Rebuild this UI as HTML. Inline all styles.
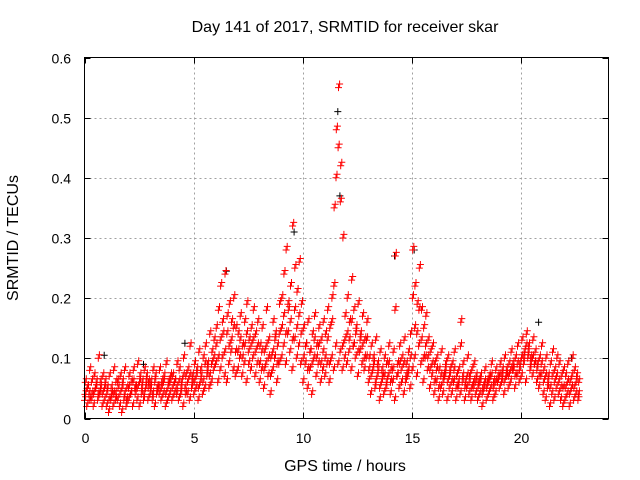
<!DOCTYPE html>
<html><head><meta charset="utf-8"><style>
html,body{margin:0;padding:0;background:#fff;}
svg{display:block;font-family:"Liberation Sans",sans-serif;}
</style></head><body>
<svg id="chart" width="640" height="480" viewBox="0 0 640 480">
<rect width="640" height="480" fill="#fff"/>
<text x="345" y="32" text-anchor="middle" font-size="16">Day 141 of 2017, SRMTID for receiver skar</text>
<text x="345" y="471" text-anchor="middle" font-size="16">GPS time / hours</text>
<text x="0" y="0" transform="translate(18,238) rotate(-90)" text-anchor="middle" font-size="16">SRMTID / TECUs</text>
<g id="grid"></g>
<g id="pts"></g>
<rect x="84.5" y="57.5" width="524" height="361" fill="none" stroke="#000" stroke-width="1"/>
<g id="ticks"></g>
</svg>
<script>
const xTicks=[0,5,10,15,20];
const yTicks=[0,0.1,0.2,0.3,0.4,0.5,0.6];
const yTickLabels=["0","0.1","0.2","0.3","0.4","0.5","0.6"];
const binHours=0.1;
const lowBand=[3,2,4,3,2,5,3,4,2,3, 2,1,3,2,4,3,2,1,3,2, 3,4,2,5,3,2,4,3,5,3, 4,3,2,4,5,3,4,2,3,4, 3,4,5,3,4,2,5,4,3,5, 4,5,3,6,4,5,7,5,6,8, 9,6,8,10,7,6,9,11,8,7, 8,10,7,9,6,11,8,10,7,9, 6,8,5,9,7,4,8,10,6,9, 10,12,9,14,11,8,13,10,12,9, 6,9,5,8,4,10,7,9,6,8, 7,9,6,10,8,12,9,11,8,10, 9,11,8,12,10,7,11,9,8,10, 6,4,8,5,7,3,6,4,5,7, 4,6,3,7,5,8,4,6,7,5, 8,10,7,12,9,6,10,8,5,7, 4,6,3,5,4,7,3,5,4,6, 3,5,4,6,3,5,4,3,5,4, 3,4,2,5,3,4,5,3,4,6, 5,6,4,7,5,6,8,5,7,6, 7,9,6,10,8,7,9,6,5,7, 4,3,5,2,4,3,5,4,3,2, 3,4,2,5,3,4,3];
const highBand=[6,5,8,4,7,6,10,5,7,6, 5,7,4,8,6,5,7,6,8,5, 7,6,8,5,9,7,6,8,7,6, 6,8,7,5,8,6,7,9,6,7, 7,6,9,8,6,10,7,8,12,7, 9,8,11,7,10,12,9,14,11,13, 15,18,22,14,24,17,19,16,20,15, 14,17,12,16,19,13,15,18,14,16, 12,15,11,18,13,10,16,14,12,19, 20,24,28,18,22,32,25,21,26,19, 15,12,16,11,14,17,12,15,13,16, 14,18,15,20,35,48,55,42,30,17, 20,16,23,18,15,19,14,17,13,16, 10,12,9,13,8,11,7,10,9,12, 8,11,27,9,12,10,13,9,11,14, 28,22,19,25,18,15,17,13,11,12, 9,10,8,11,7,9,10,8,9,11, 7,8,16,9,6,10,7,8,9,7, 6,7,5,8,6,7,9,6,8,7, 9,8,10,7,9,11,8,10,12,9, 13,11,14,12,10,13,11,9,10,12, 8,10,7,9,11,8,10,9,7,8, 7,9,6,10,8,7,6];
const midBand=[4,5,3,6,4,5,4,6,4,5, 4,3,5,4,3,6,4,5,4,3, 5,4,6,4,5,6,5,4,6,5, 5,4,6,5,4,5,6,4,5,6, 5,6,4,6,5,7,4,6,7,6, 6,7,5,8,6,9,8,7,9,10, 12,10,13,16,11,14,12,13,15,11, 11,13,10,12,14,9,12,13,11,12, 9,11,8,12,10,7,11,13,9,14, 15,17,14,19,16,13,18,15,17,14, 10,12,8,11,9,13,10,12,9,11, 10,13,9,16,22,40,45,36,12,13, 14,13,16,12,14,11,13,12,10,13, 8,7,10,6,9,5,8,7,6,9, 6,8,18,7,9,6,9,7,8,10, 20,15,14,18,13,10,12,10,8,9, 6,8,5,7,6,8,6,7,6,8, 5,6,12,7,5,7,6,5,6,6, 5,6,4,6,5,6,7,5,6,6, 7,7,6,8,7,8,9,7,9,8, 10,10,12,11,9,10,9,8,7,9, 6,7,6,5,7,6,7,6,5,5, 5,6,4,7,5,6,4];
const blackTimes=[0.9,2.7,4.6,6.5,9.6,11.6,11.7,14.2,15.1,20.8,22.3];
const blackVals=[0.105,0.09,0.125,0.245,0.31,0.51,0.37,0.27,0.28,0.16,0.1];
const X0=84.5,X1=608.5,Y0=418.5,Y1=57.5,XMAX=24,YMAX=0.6;
function xs(h){return X0+(X1-X0)*h/XMAX;}
function ys(v){return Y0-(Y0-Y1)*v/YMAX;}
const NS="http://www.w3.org/2000/svg";
const grid=document.getElementById('grid'),ticks=document.getElementById('ticks'),pts=document.getElementById('pts');
function mk(tag,attrs,parent){const e=document.createElementNS(NS,tag);for(const k in attrs)e.setAttribute(k,attrs[k]);parent.appendChild(e);return e;}
xTicks.forEach(t=>{
 const x=Math.round(xs(t))+0.5;
 if(t>0){const g=mk('line',{x1:x,x2:x,y1:Y1,y2:Y0,stroke:'#a0a0a0','stroke-dasharray':'2,3'},grid);
 
 }
 const tk=mk('path',{d:`M${x},${Y0}v-6M${x},${Y1}v6`,stroke:'#000'},ticks);
 
 
 const l=mk('text',{x:x,y:443,'text-anchor':'middle','font-size':'14'},ticks);l.textContent=t;
 
 
});
yTicks.forEach((t,i)=>{
 const y=Math.round(ys(t))+0.5;
 if(t>0&&t<YMAX){const g=mk('line',{x1:X0,x2:X1,y1:y,y2:y,stroke:'#a0a0a0','stroke-dasharray':'2,3'},grid);
 
 }
 const tk=mk('path',{d:`M${X0},${y}h6M${X1},${y}h-6`,stroke:'#000'},ticks);
 
 
 const l=mk('text',{x:71,y:y+5,'text-anchor':'end','font-size':'14'},ticks);l.textContent=yTickLabels[i];
 
 
});
function plus(h,v,color,name){
 const x=xs(h),y=ys(v);
 const p=mk('path',{d:`M${(x-3.5).toFixed(1)},${y.toFixed(1)}h7M${x.toFixed(1)},${(y-3.5).toFixed(1)}v7`,stroke:color,'stroke-width':'1'},pts);
 
 
}
blackTimes.forEach((t,i)=>plus(t,blackVals[i],'#000','black-point'));
const bands=[[lowBand,[0,0.05]],[midBand,[0.017,0.067]],[highBand,[0.033,0.083]]];
bands.forEach(([arr,offs])=>offs.forEach((off,k)=>arr.forEach((v,i)=>plus(i*binHours+off,(v+(k?0.6:0))/100,'#f00','red-point'))));
</script>
</body></html>
